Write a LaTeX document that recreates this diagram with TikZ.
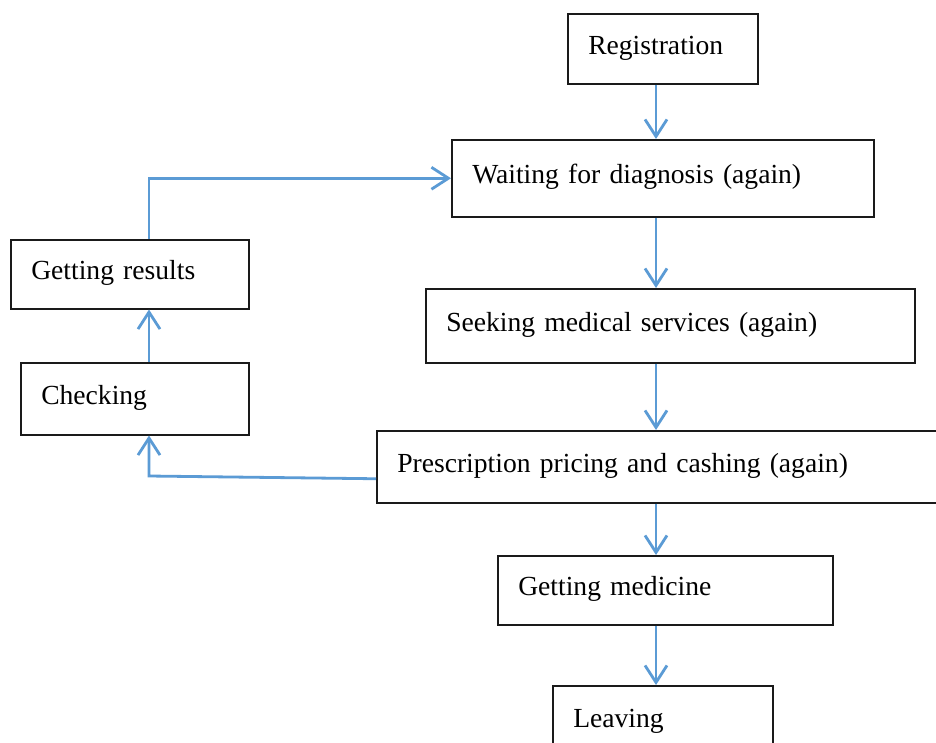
\documentclass[tikz,border=0pt]{standalone}
\usepackage{fontspec}
\setmainfont{Liberation Serif}
\usetikzlibrary{arrows.meta,calc}
\definecolor{flowblue}{HTML}{5B9BD5}
\definecolor{edge}{HTML}{1A1A1A}
\tikzset{
  stepbox/.style args={#1 by #2}{draw=edge, line width=1.5pt, rectangle, anchor=north west,
    minimum width=#1pt, minimum height=#2pt, text width=#1pt-41pt,
    inner xsep=20.5pt, inner ysep=0pt, align=left,
    font=\fontsize{27.6}{32}\selectfont, text height=19pt, text depth=8pt},
  flow/.style={draw=flowblue, line width=2.8pt,
    -{Straight Barb[length=17pt,width=22pt,line width=2.8pt]}},
}
\begin{document}
\begin{tikzpicture}[x=1pt,y=-1pt]
  \clip (0,0) rectangle (936,742);
  \fill[white] (0,0) rectangle (936,742);
  % process boxes
  \node[stepbox=190 by 70]  (reg)   at (567,13)  {Registration};
  \node[stepbox=422 by 77]  (wait)  at (451,139) {Waiting for diagnosis (again)};
  \node[stepbox=238 by 69]  (res)   at (10,239)  {Getting results};
  \node[stepbox=489 by 74]  (seek)  at (425,288) {Seeking medical services (again)};
  \node[stepbox=228 by 72]  (chk)   at (20,362)  {Checking};
  \node[stepbox=620 by 72]  (pres)  at (376,430) {Prescription pricing and cashing (again)};
  \node[stepbox=335 by 69]  (med)   at (497,555) {Getting medicine};
  \node[stepbox=220 by 72]  (leave) at (552,685) {Leaving};
  % main column
  \coordinate (axis) at (656,0);
  \draw[flow] (reg.south -| axis)  -- (wait.north -| axis);
  \draw[flow] (wait.south -| axis) -- (seek.north -| axis);
  \draw[flow] (seek.south -| axis) -- (pres.north -| axis);
  \draw[flow] (pres.south -| axis) -- (med.north -| axis);
  \draw[flow] (med.south -| axis)  -- (leave.north -| axis);
  % examination loop on the left
  \coordinate (bend) at (149,476);
  \draw[flow] ($(pres.west)+(0,12)$) -- (bend) -- (chk.south -| bend);
  \draw[flow] (chk.north -| bend) -- (res.south -| bend);
  \draw[flow] (res.north -| bend) |- (wait.west);
\end{tikzpicture}
\end{document}
